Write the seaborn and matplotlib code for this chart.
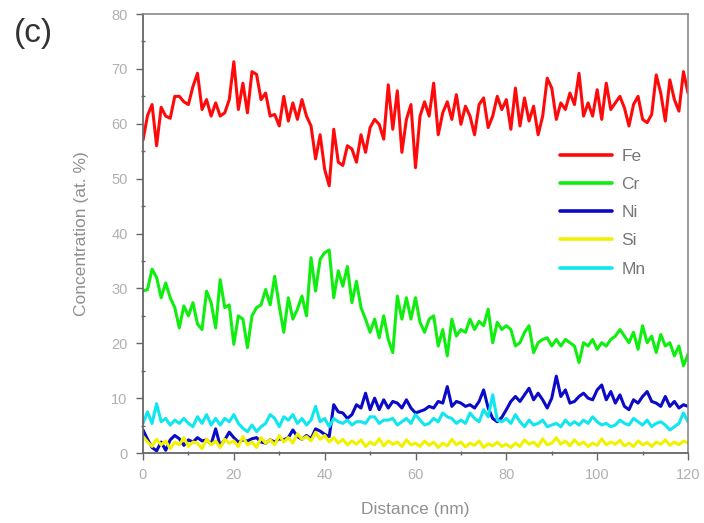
import numpy as np
import pandas as pd
import matplotlib
matplotlib.use("Agg")
import matplotlib.pyplot as plt
import seaborn as sns
from matplotlib.ticker import MultipleLocator

distance = list(range(0, 121))

fe = [57, 61.5, 63.5, 56, 63, 61.4, 61, 65, 65, 64, 63.5, 66.8, 69.2, 62.6, 64.4, 61.4, 63.8, 61.4, 62, 64.4,
      71.3, 62.6, 67.4, 62, 69.5, 69, 64.4, 65.6, 61.4, 61.7, 59.6, 65, 60.5, 63.8, 60.8, 64.4, 61.4, 59.6, 53.6, 58,
      51.7, 48.7, 59, 53, 52.4, 56, 55.4, 53, 58, 54.8, 59.3, 60.8, 59.9, 57.2, 67.1, 59, 66, 54.8, 60.8, 63.5,
      52, 61.4, 64, 61.4, 67.4, 58, 62, 64, 60.8, 65.3, 59.9, 63.2, 61.4, 58, 63.5, 64.7, 59.3, 61.4, 65, 62.6,
      64.4, 59, 66.5, 59.6, 64.7, 60.5, 63.2, 58, 61.4, 68.3, 66.5, 60.8, 63.8, 62.6, 65.6, 63.5, 69.2, 61.4, 63.8, 61.4,
      66.2, 60.8, 67.4, 62.6, 63.8, 65, 62.9, 59.6, 63.5, 65, 60.8, 60.2, 61.7, 68.9, 65.6, 60.5, 68, 64.4, 62.3, 69.5,
      65.6]

cr = [29.5, 29.8, 33.5, 32, 28.3, 31, 28.3, 26.5, 22.8, 26.8, 25, 27.4, 23.5, 22.5, 29.5, 27.4, 22.8, 31.6, 26.5, 27,
      19.8, 25, 24.4, 19.2, 25, 26.5, 27, 29.8, 27, 32.2, 26.8, 22, 28.3, 24.4, 26.2, 28.6, 25, 35.6, 29.5, 35.3,
      36.5, 37, 28.3, 33.2, 30.4, 34, 27.4, 31.3, 26.5, 24.4, 22, 24.4, 21, 25, 20.7, 18.3, 28.6, 24.4, 28.3, 24.4,
      28.3, 23.8, 22, 24.4, 25, 19.5, 22.5, 17.7, 24.4, 21.3, 22.5, 22, 24.4, 22.5, 24, 23.2, 26.2, 20.1, 23.8, 22.5,
      23.2, 22.5, 19.5, 20.1, 22, 23.2, 18.3, 20.1, 20.7, 21, 19.5, 20.7, 19.5, 20.7, 20.1, 19.5, 16.5, 20.1, 19.5, 20.7,
      18.9, 20.1, 19.5, 20.7, 21.3, 22.5, 21.3, 20.1, 22, 18.9, 23.2, 20.1, 21.3, 18.3, 21.6, 19.5, 20.1, 17.7, 19.5, 15.9,
      18]

ni = [4.2, 2.5, 1.0, 0.4, 2.0, 0.5, 2.4, 3.2, 2.6, 1.4, 2.4, 2.0, 2.8, 2.2, 2.4, 1.6, 4.4, 1.3, 2.4, 3.8,
      2.8, 2.0, 2.4, 2.2, 2.6, 2.8, 2.0, 1.8, 2.4, 2.0, 2.6, 2.4, 2.8, 4.2, 3.0, 2.5, 3.2, 2.6, 4.4, 4.0,
      3.4, 3.0, 8.8, 7.5, 7.3, 6.3, 7, 8.8, 8.2, 10.9, 7.9, 10, 7.9, 9.7, 8.2, 9.4, 9.1, 8.2, 9.7, 8.2,
      7.3, 7.6, 7.9, 8.5, 8.2, 9.4, 9.1, 12.1, 8.5, 9.4, 9.1, 8.5, 8.8, 8.2, 9.4, 11.5, 8.2, 6.3, 5.7, 6.5,
      7.9, 9.4, 10.3, 9.4, 10.6, 11.8, 9.7, 10.9, 9.7, 8.2, 10, 14, 10.3, 11.5, 9.1, 9.4, 10.3, 10.9, 10, 9.7,
      11.5, 12.4, 9.7, 11.2, 9.1, 10.6, 8.5, 7.9, 9.7, 9.1, 10.3, 11.2, 9.4, 9.1, 8.5, 10.3, 8.5, 9.4, 8.2, 8.8,
      8.5]

si = [3, 2, 1.2, 2.5, 1.5, 2.2, 0.8, 2, 1.5, 2.8, 1.2, 2, 1.8, 0.8, 2.5, 1.5, 2.2, 1, 2.5, 1.8,
      2.2, 1.2, 3, 1.5, 2, 1, 2.8, 1.8, 2.4, 1.5, 3.2, 2, 2.8, 1.8, 3.5, 2.5, 3, 2.2, 3.8, 2.5,
      3.2, 2, 2.8, 1.8, 2.5, 1.5, 2.2, 1.6, 2.4, 1.2, 2, 1.5, 2.6, 1.3, 2.2, 1.6, 2, 1.2, 2.4, 1.5,
      1.8, 1.2, 2.2, 1.4, 2, 1, 1.8, 1.3, 2.5, 1.5, 2, 1.1, 1.8, 1.4, 2.2, 1, 1.7, 1.3, 2, 1.2,
      1.6, 1, 1.8, 1.2, 2.4, 1.6, 2, 1.2, 2.6, 1.5, 1.8, 2.8, 1.6, 2.2, 1.3, 2.4, 1.5, 2, 1.2, 1.8,
      1.4, 2.6, 1.5, 2, 1.6, 2.3, 1.3, 1.8, 1.2, 2.2, 1.5, 1.9, 1.2, 2, 1.6, 2.4, 1.4, 2, 1.5, 2.2,
      1.8]

mn = [5.4, 7.5, 5.4, 9, 5.7, 6.3, 5.1, 6, 5.4, 6.3, 5.4, 4.8, 6.6, 5.4, 7, 5.1, 6.3, 5.1, 6.3, 5.7,
      7, 5.4, 4.5, 3.9, 5.1, 3.9, 4.8, 5.4, 7, 6.3, 4.8, 6.6, 6, 7, 5.4, 6.3, 5.1, 6, 8.5, 5.7,
      6.3, 4.8, 6.3, 5.7, 5.4, 6, 5.1, 5.7, 5.7, 5.4, 6.6, 6.6, 5.4, 6, 6, 6.3, 5.1, 5.7, 6.3, 5.4,
      7, 6, 5.1, 5.4, 6.3, 5.7, 7.3, 6.6, 6.3, 5.4, 6, 5.4, 7.3, 6.3, 5.7, 7.9, 6.6, 10.6, 6, 5.7,
      6.3, 5.4, 7, 5.7, 4.8, 6, 5.1, 5.4, 6, 4.8, 5.1, 5.4, 4.8, 6, 5.1, 5.7, 5.1, 6, 5.4, 6.6,
      5.7, 5.1, 5.4, 4.8, 5.1, 6, 5.4, 5.1, 6.3, 5.7, 5.1, 6, 4.8, 5.4, 5.7, 5.1, 4.2, 4.8, 5.4, 7.3,
      5.7]

elements = ["Fe", "Cr", "Ni", "Si", "Mn"]
colors = ["#ff0a0a", "#10ee10", "#0a0ac8", "#f2f200", "#10e6ee"]

series = {"Fe": fe, "Cr": cr, "Ni": ni, "Si": si, "Mn": mn}
frames = []
for name in elements:
    frames.append(pd.DataFrame({"Distance": distance, "Conc": series[name], "Element": name}))
df = pd.concat(frames, ignore_index=True)

sns.set_theme(style="white")
plt.rcParams["font.family"] = ["Liberation Sans", "DejaVu Sans"]

fig = plt.figure(figsize=(7.04, 5.23), dpi=100)
ax = fig.add_axes([0.2031, 0.1338, 0.7742, 0.8394])

sns.lineplot(data=df, x="Distance", y="Conc", hue="Element", hue_order=elements,
             palette=colors, linewidth=2.2, ax=ax, estimator=None, sort=False)

ax.set_xlim(0, 120)
ax.set_ylim(0, 80)
ax.xaxis.set_major_locator(MultipleLocator(20))
ax.xaxis.set_minor_locator(MultipleLocator(10))
ax.yaxis.set_major_locator(MultipleLocator(10))
ax.yaxis.set_minor_locator(MultipleLocator(5))

spine_col = "#666666"
for s in ["left", "bottom"]:
    ax.spines[s].set_color(spine_col)
    ax.spines[s].set_linewidth(1.3)
for s in ["top", "right"]:
    ax.spines[s].set_color("#8a8a8a")
    ax.spines[s].set_linewidth(1.2)

ax.tick_params(axis="both", which="major", direction="out", length=5, width=1,
               color=spine_col, labelcolor="#b0b0b0", labelsize=10.5, pad=6,
               bottom=True, left=True)
ax.tick_params(axis="both", which="minor", direction="inout", length=3, width=1,
               color=spine_col, bottom=True, left=True)

ax.set_xlabel("Distance (nm)", color="#909090", fontsize=12.5, labelpad=14)
ax.set_ylabel("Concentration (at. %)", color="#909090", fontsize=12.5, labelpad=16)

leg = ax.legend(loc="upper left", bbox_to_anchor=(0.755, 0.705), frameon=True,
                fontsize=12.5, handlelength=3.0, labelspacing=0.75, handletextpad=0.55,
                borderpad=0.3, borderaxespad=0.0)
leg.get_frame().set_facecolor("white")
leg.get_frame().set_edgecolor("none")
leg.get_frame().set_alpha(1.0)
for t in leg.get_texts():
    t.set_color("#777777")
for line in leg.get_lines():
    line.set_linewidth(2.6)

fig.text(0.019, 0.935, "(c)", fontsize=24, color="#333333", ha="left", va="center")

fig.savefig("out.png", dpi=100)
